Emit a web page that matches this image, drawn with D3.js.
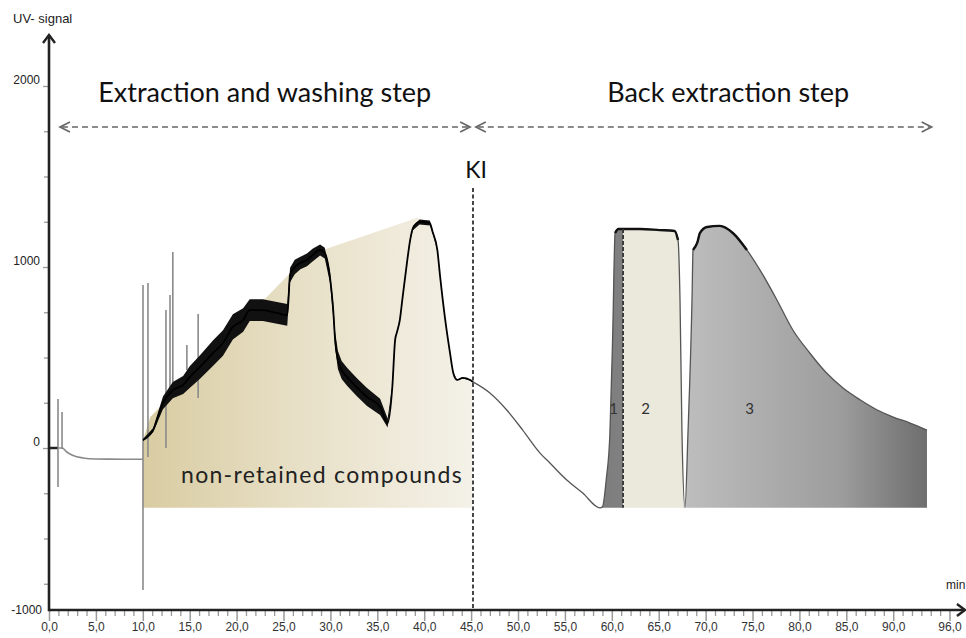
<!DOCTYPE html>
<html>
<head>
<meta charset="utf-8">
<script src="https://cdn.jsdelivr.net/npm/d3@7"></script>
<style>
body{margin:0;background:#fff}
svg{display:block}
</style>
</head>
<body>
<svg id="chart" width="966" height="638"></svg>
<script>
// signal: [time (min), UV signal]
var baseline = [[0,0],[0.9,0],[1.4,0],[1.9,-22],[2.5,-40],[3.6,-55],[5,-61],[8,-62],[10,-62]]

// extraction + washing step: [time, signal, noise half-width]
var extraction = [[10.02,44,6],[11.1,99,12],[12.15,249,35],[13.2,320,45],[14.3,348,50],[15.0,392,60],
  [16.1,448,65],[17.5,525,70],[18.55,580,70],[19.6,669,70],[20.7,707,65],[21.4,762,60],[22.8,762,60],
  [24.3,746,60],[25.4,735,60],[25.7,956,40],[26.2,1000,40],[26.8,1022,35],[27.5,1039,35],[28.1,1066,35],
  [28.9,1094,30],[29.4,1077,30],[29.95,945,30],[30.3,762,40],[30.5,597,45],[30.8,486,50],[31.2,431,50],
  [31.8,392,50],[32.8,337,50],[33.9,282,50],[35.3,227,45],[36.1,138,25],[36.6,337,8],[36.9,597,6],
  [37.1,641,6],[37.4,707,6],[37.7,834,6],[38.2,1039,6],[38.5,1149,8],[38.8,1215,12],[39.5,1249,14],
  [40.6,1243,14],[40.9,1193,8],[41.4,1094,5],[41.7,945,4],[42.2,724,3],[42.75,525,3],[43.1,414,3],
  [43.5,376,3],[44.1,387,3],[44.9,376,3],[45.2,365,3]]

// back extraction step: [time, signal]
var backExtraction = [[47.0,304],[48.8,210],[50.5,99],[52.35,-28],[53.4,-83],[55.2,-177],[56.9,-249],
  [58.74,-331],[59.0,-325],[59.4,-177],[59.8,83],[60.1,635],[60.35,1188],[60.7,1210],[63,1210],
  [65.1,1204],[66.7,1199],[67.06,1149],[67.27,818],[67.48,83],[67.8,-326],[68.12,83],[68.55,818],
  [68.66,1094],[69.1,1133],[69.4,1188],[70.15,1221],[71.5,1227],[72.9,1188],[74.4,1094],[75.8,983],
  [77.6,818],[79.3,652],[81.1,525],[82.9,414],[84.65,331],[86.5,265],[88.3,210],[90,171],[91.8,138],[93.6,99]]

// injection spikes: [time, top, bottom]
var spikes = [[0.96,271,-215],[1.39,199,-5],[10.02,900,-785],[10.55,912,-50],[12.47,762,0],
  [12.9,845,320],[13.2,1083,337],[14.7,569,431],[15.9,740,276]]

// outline of the "non-retained compounds" region
var nonRetained = [[10.0,-330],[10.0,40],[10.8,171],[25.7,967],[29.2,1094],[39.2,1271],[40.6,1249],
  [40.9,1193],[41.4,1094],[41.7,945],[42.2,724],[42.75,525],[43.1,414],[43.5,376],[44.1,387],
  [44.9,376],[45.1,340],[45.1,-330]]

var fractionEdges = [58.6, 61.2, 67.65, 93.6]
var fractionNames = ["1","2","3"]
var fractionLabelTimes = [60.2, 63.6, 74.7]

var xMajor = [0,5,10,15,20,25,30,35,40,45,50,55,60,65,70,75,80,85,90,96]
var xMinor = d3.range(0,97).filter(function(d){return xMajor.indexOf(d)==-1})
var yMajor = [0,1000,2000]
var yMinor = [-750,-500,-250,250,500,750,1250,1500,1750]

var kiTime = 45.2
var areaBottom = -330
var yFloor = -895, yTop = 2282, xEnd = 97.65

var x = d3.scaleLinear().domain([0,96]).range([49,949.5])
var y = d3.scaleLinear().domain([yFloor,2000]).range([610,86])

var svg = d3.select("#chart")
var defs = svg.append("defs")

function gradient(id, stops){
    var g = defs.append("linearGradient").attr("id",id).attr("x1",0).attr("x2",1).attr("y1",0).attr("y2",0)
    stops.forEach(function(s){
        g.append("stop").attr("offset",s[0]).attr("stop-color",s[1])
    })
}
gradient("gNon",[[0,"#d9cca2"],[0.45,"#e7dfc5"],[1,"#f4f1e8"]])
gradient("g1",[[0,"#707070"],[1,"#a4a4a4"]])
gradient("g3",[[0,"#d4d4d4"],[0.45,"#bdbdbd"],[0.8,"#9d9d9d"],[1,"#6e6e6e"]])
var fractionFills = ["url(#g1)","#ebe8dc","url(#g3)"]

for(var i=0;i<3;i++){
    defs.append("clipPath").attr("id","clip"+i).append("rect")
    .attr("x",x(fractionEdges[i])).attr("width",x(fractionEdges[i+1])-x(fractionEdges[i]))
    .attr("y",0).attr("height",638)
}

// shaded regions
svg.append("path").datum(nonRetained)
.attr("d",d3.line().x(function(d){return x(d[0])}).y(function(d){return y(d[1])}))
.attr("fill","url(#gNon)")

var underCurve = d3.area().x(function(d){return x(d[0])}).y0(y(areaBottom)).y1(function(d){return y(d[1])})
.curve(d3.curveMonotoneX)
for(var i=0;i<3;i++){
    svg.append("path").datum(backExtraction).attr("d",underCurve)
    .attr("fill",fractionFills[i]).attr("clip-path","url(#clip"+i+")")
}

// spikes
svg.selectAll(".spike").data(spikes).enter().append("line")
.attr("x1",function(d){return x(d[0])}).attr("x2",function(d){return x(d[0])})
.attr("y1",function(d){return y(d[1])}).attr("y2",function(d){return y(d[2])})
.attr("stroke","#8a8a8a").attr("stroke-width",1.6)

var line = d3.line().x(function(d){return x(d[0])}).y(function(d){return y(d[1])}).curve(d3.curveMonotoneX)

svg.append("path").datum(baseline).attr("d",line).attr("fill","none").attr("stroke","#8a8a8a").attr("stroke-width",1.6)
svg.append("path").datum(baseline.filter(function(d){return d[0]<=1})).attr("d",line)
.attr("fill","none").attr("stroke","#222").attr("stroke-width",2.5)

svg.append("path").datum([extraction[extraction.length-1]].concat(backExtraction)).attr("d",line)
.attr("fill","none").attr("stroke","#555").attr("stroke-width",1.3)

// noisy band of the extraction trace
svg.append("path").datum(extraction)
.attr("d",d3.area().x(function(d){return x(d[0])}).y0(function(d){return y(d[1]-d[2])}).y1(function(d){return y(d[1]+d[2])}))
.attr("fill","#111")
svg.append("path").datum(extraction).attr("d",line).attr("fill","none").attr("stroke","#000").attr("stroke-width",1.8)

// bold tops of peaks
svg.append("path").datum(backExtraction.filter(function(d){return d[0]>=60.3&&d[0]<=67.1})).attr("d",line)
.attr("fill","none").attr("stroke","#111").attr("stroke-width",2.4)
svg.append("path").datum(backExtraction.filter(function(d){return d[0]>=68.6&&d[0]<=74.5})).attr("d",line)
.attr("fill","none").attr("stroke","#111").attr("stroke-width",2.4)

// divider between fraction 1 and 2
svg.append("line").attr("x1",x(fractionEdges[1])).attr("x2",x(fractionEdges[1]))
.attr("y1",y(1210)).attr("y2",y(areaBottom))
.attr("stroke","#333").attr("stroke-width",1.8).attr("stroke-dasharray","4,2")

// KI line
svg.append("line").attr("x1",x(kiTime)).attr("x2",x(kiTime)).attr("y1",y(1436)).attr("y2",y(yFloor))
.attr("stroke","#444").attr("stroke-width",2).attr("stroke-dasharray","4,2.5")
svg.append("text").text("KI").attr("x",x(kiTime)+3).attr("y",y(1490))
.attr("text-anchor","middle").style("font-family","Lato").style("font-size","23px").attr("fill","#111")

// step arrows
function dashedArrow(t0,t1,v){
    var x0 = x(t0), x1 = x(t1), yy = y(v)
    svg.append("line").attr("x1",x0+2).attr("x2",x1-2).attr("y1",yy).attr("y2",yy)
    .attr("stroke","#666").attr("stroke-width",1.5).attr("stroke-dasharray","6,4")
    svg.append("path").attr("d","M"+(x0+10)+","+(yy-5)+"L"+x0+","+yy+"L"+(x0+10)+","+(yy+5))
    .attr("fill","none").attr("stroke","#666").attr("stroke-width",1.6)
    svg.append("path").attr("d","M"+(x1-10)+","+(yy-5)+"L"+x1+","+yy+"L"+(x1-10)+","+(yy+5))
    .attr("fill","none").attr("stroke","#666").attr("stroke-width",1.6)
}
dashedArrow(1.17,44.9,1773)
dashedArrow(45.5,94.1,1773)

svg.append("text").text("Extraction and washing step").attr("x",x(23)).attr("y",y(1910))
.attr("text-anchor","middle").style("font-family","Lato").style("font-size","27px").attr("fill","#111")
svg.append("text").text("Back extraction step").attr("x",x(72.4)).attr("y",y(1910))
.attr("text-anchor","middle").style("font-family","Lato").style("font-size","27px").attr("fill","#111")

svg.append("text").text("non-retained compounds").attr("x",x(29.1)).attr("y",y(-192))
.attr("text-anchor","middle").style("font-family","Lato").style("font-size","23px")
.style("letter-spacing","1.3px").attr("fill","#222")

svg.selectAll(".fraction").data(fractionNames).enter().append("text")
.text(function(d){return d}).attr("x",function(d,i){return x(fractionLabelTimes[i])}).attr("y",y(188))
.attr("text-anchor","middle").style("font-family","Lato").style("font-size","15px").attr("fill","#333")

// axes
var fmt = d3.formatLocale({decimal:",",thousands:".",grouping:[3],currency:["",""]}).format(".1f")

var gx = svg.append("g").attr("transform","translate(0,"+y(yFloor)+")")
gx.call(d3.axisBottom(x).tickValues(xMajor).tickSize(11).tickPadding(1).tickFormat(fmt))
gx.select(".domain").remove()
gx.selectAll("line").attr("stroke","#9a9a9a").attr("stroke-width",1.5)
gx.selectAll("text").style("font-family","Liberation Sans").style("font-size","12px").attr("fill","#333")

var gxm = svg.append("g").attr("transform","translate(0,"+y(yFloor)+")")
gxm.call(d3.axisBottom(x).tickValues(xMinor).tickSize(6).tickFormat(""))
gxm.select(".domain").remove()
gxm.selectAll("line").attr("stroke","#9a9a9a").attr("stroke-width",1.3)

var gy = svg.append("g").attr("transform","translate("+x(0)+",0)")
gy.call(d3.axisLeft(y).tickValues(yMajor).tickSize(6).tickPadding(3).tickFormat(d3.format("d")))
gy.select(".domain").remove()
gy.selectAll("line").attr("stroke","#9a9a9a").attr("stroke-width",1.3)
gy.selectAll("text").attr("y",-6).style("font-family","Liberation Sans").style("font-size","12px").attr("fill","#222")

var gym = svg.append("g").attr("transform","translate("+x(0)+",0)")
gym.call(d3.axisLeft(y).tickValues(yMinor).tickSize(5).tickFormat(""))
gym.select(".domain").remove()
gym.selectAll("line").attr("stroke","#9a9a9a").attr("stroke-width",1.3)

svg.append("text").text("-1000").attr("x",x(0)-7).attr("y",y(yFloor)).attr("dy","0.32em")
.attr("text-anchor","end").style("font-family","Liberation Sans").style("font-size","12px").attr("fill","#222")

// axis lines with arrow heads
svg.append("line").attr("x1",x(0)).attr("x2",x(xEnd)).attr("y1",y(yFloor)).attr("y2",y(yFloor))
.attr("stroke","#222").attr("stroke-width",2.6)
svg.append("path").attr("d","M"+(x(xEnd)-8)+","+(y(yFloor)-6)+"L"+x(xEnd)+","+y(yFloor)+"L"+(x(xEnd)-8)+","+(y(yFloor)+6))
.attr("fill","none").attr("stroke","#222").attr("stroke-width",2.4)

svg.append("line").attr("x1",x(0)).attr("x2",x(0)).attr("y1",y(yFloor)+1.3).attr("y2",y(yTop))
.attr("stroke","#222").attr("stroke-width",2.6)
svg.append("path").attr("d","M"+(x(0)-6)+","+(y(yTop)+8)+"L"+x(0)+","+y(yTop)+"L"+(x(0)+6)+","+(y(yTop)+8))
.attr("fill","none").attr("stroke","#222").attr("stroke-width",2.4)

svg.append("text").text("UV- signal").attr("x",13).attr("y",23)
.style("font-family","Liberation Sans").style("font-size","13px").attr("fill","#222")
svg.append("text").text("min").attr("x",946).attr("y",589)
.style("font-family","Liberation Sans").style("font-size","12px").attr("fill","#222")
</script>
</body>
</html>
